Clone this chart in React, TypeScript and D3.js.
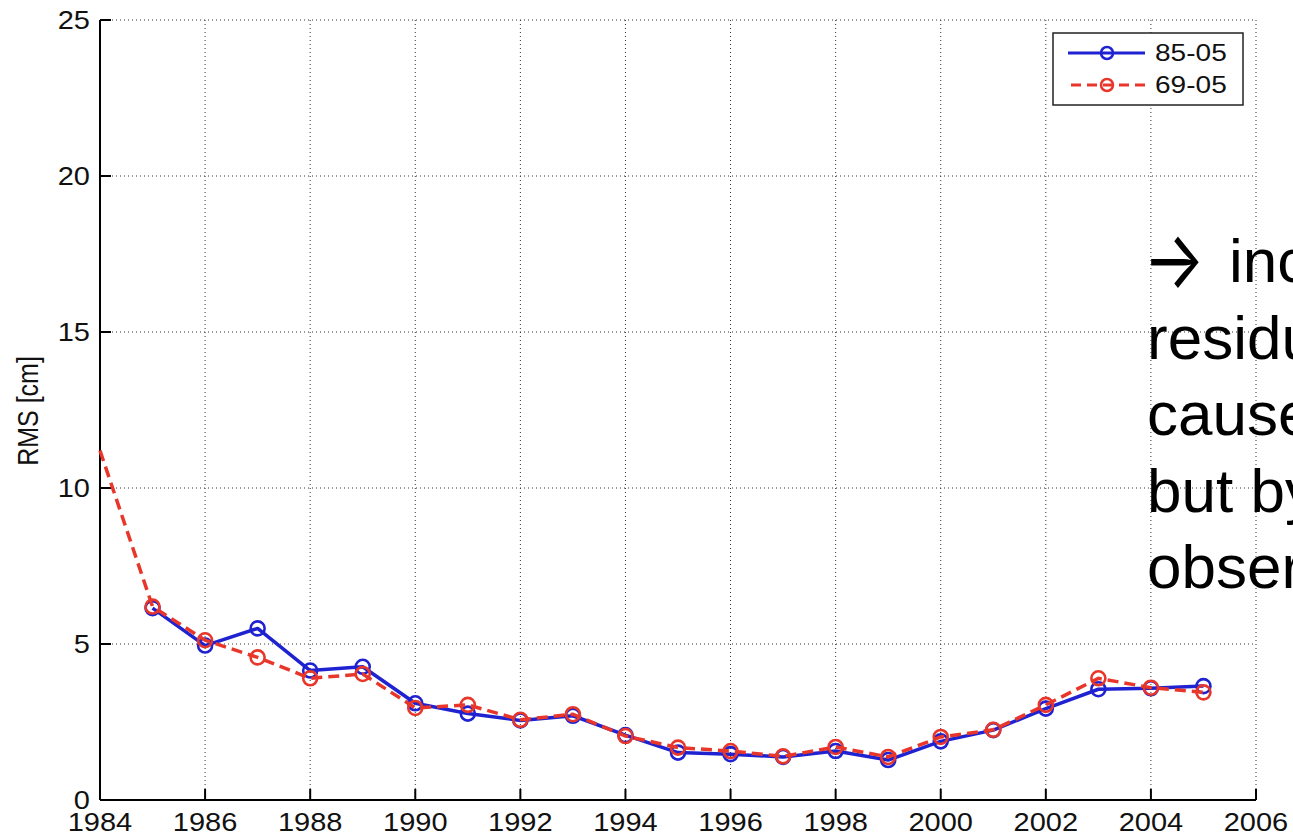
import React from 'react';
import * as d3 from 'd3';

// years / values
const years85 = [1985, 1986, 1987, 1988, 1989, 1990, 1991, 1992, 1993, 1994, 1995, 1996, 1997, 1998, 1999, 2000, 2001, 2002, 2003, 2004, 2005];
const rms85 = [6.15, 4.95, 5.5, 4.15, 4.27, 3.1, 2.77, 2.55, 2.7, 2.08, 1.52, 1.47, 1.38, 1.57, 1.28, 1.88, 2.24, 2.93, 3.55, 3.58, 3.65];
const years69 = [1984, 1985, 1986, 1987, 1988, 1989, 1990, 1991, 1992, 1993, 1994, 1995, 1996, 1997, 1998, 1999, 2000, 2001, 2002, 2003, 2004, 2005];
const rms69 = [11.2, 6.2, 5.12, 4.57, 3.9, 4.04, 2.95, 3.05, 2.57, 2.75, 2.05, 1.68, 1.57, 1.4, 1.7, 1.38, 2.02, 2.25, 3.05, 3.9, 3.6, 3.45];
const xTicks = [1984, 1986, 1988, 1990, 1992, 1994, 1996, 1998, 2000, 2002, 2004, 2006];
const yTicks = [0, 5, 10, 15, 20, 25];
const noteLines = ['inc', 'residu', 'cause', 'but by', 'obser'];

const W = 1293, H = 833;
const left = 100, right = 1256, top = 20, bottom = 800;
const font = '"Liberation Sans", Arial, sans-serif';
const BLUE = '#1f22d0';
const RED = '#e8372a';
const stretch = 1.16;

const App = () => {
  const x = d3.scaleLinear().domain([1984, 2006]).range([left, right]);
  const y = d3.scaleLinear().domain([0, 25]).range([bottom, top]);

  const line = d3.line<[number, number]>()
    .x(d => x(d[0]))
    .y(d => y(d[1]));

  const blue = years85.map((yr, i) => [yr, rms85[i]] as [number, number]);
  const red = years69.map((yr, i) => [yr, rms69[i]] as [number, number]);

  return (
    <svg width={W} height={H} style={{ position: 'absolute', left: 0, top: 0, background: '#fff' }}>
      <rect width={W} height={H} fill="#fff" />

      {/* dotted grid */}
      {xTicks.filter(t => t !== 1984).map(t => (
        <line key={'gx' + t} x1={x(t)} x2={x(t)} y1={top} y2={bottom}
          stroke="#333" strokeWidth={1} strokeDasharray="1,3" />
      ))}
      {yTicks.filter(t => t !== 0).map(t => (
        <line key={'gy' + t} x1={left} x2={right} y1={y(t)} y2={y(t)}
          stroke="#333" strokeWidth={1} strokeDasharray="1,3" />
      ))}

      {/* axes */}
      <line x1={left} x2={left} y1={top} y2={bottom} stroke="#000" strokeWidth={2} />
      <line x1={left} x2={right} y1={bottom} y2={bottom} stroke="#000" strokeWidth={2} />
      {yTicks.map(t => (
        <line key={'ty' + t} x1={left} x2={left + 11} y1={y(t)} y2={y(t)} stroke="#000" strokeWidth={2} />
      ))}
      {xTicks.map(t => (
        <line key={'tx' + t} x1={x(t)} x2={x(t)} y1={bottom} y2={bottom - 11} stroke="#000" strokeWidth={2} />
      ))}

      {/* tick labels */}
      {yTicks.map(t => (
        <text key={'ly' + t} transform={`translate(${left - 10},${y(t) + 9}) scale(${stretch},1)`}
          textAnchor="end" fontFamily={font} fontSize={25} fill="#111">{t}</text>
      ))}
      {xTicks.map(t => (
        <text key={'lx' + t} transform={`translate(${x(t)},${bottom + 31}) scale(${stretch},1)`}
          textAnchor="middle" fontFamily={font} fontSize={25} fill="#111">{t}</text>
      ))}
      <text transform={`translate(38,411) rotate(-90) scale(1,${stretch})`}
        textAnchor="middle" fontFamily={font} fontSize={25} fill="#111">RMS [cm]</text>

      {/* series */}
      <path d={line(blue) || ''} fill="none" stroke={BLUE} strokeWidth={3.5} strokeLinejoin="round" />
      {blue.map(d => (
        <circle key={'b' + d[0]} cx={x(d[0])} cy={y(d[1])} r={7} fill="none" stroke={BLUE} strokeWidth={2.6} />
      ))}
      <path d={line(red) || ''} fill="none" stroke={RED} strokeWidth={3.5} strokeDasharray="11,6" />
      {red.filter(d => d[0] > 1984).map(d => (
        <circle key={'r' + d[0]} cx={x(d[0])} cy={y(d[1])} r={7} fill="none" stroke={RED} strokeWidth={2.6} />
      ))}

      {/* legend */}
      <g>
        <rect x={1053} y={33} width={190} height={72} fill="#fff" stroke="#222" strokeWidth={1.5} />
        <line x1={1068} x2={1145} y1={53} y2={53} stroke={BLUE} strokeWidth={3} />
        <circle cx={1107} cy={53} r={6} fill="none" stroke={BLUE} strokeWidth={2.5} />
        <text transform={`translate(1155,61) scale(1.22,1)`} fontFamily={font} fontSize={23} fill="#111">85-05</text>
        <line x1={1071} x2={1145} y1={85} y2={85} stroke={RED} strokeWidth={3} strokeDasharray="10,6" />
        <circle cx={1107} cy={85} r={6} fill="none" stroke={RED} strokeWidth={2.5} />
        <text transform={`translate(1155,93) scale(1.22,1)`} fontFamily={font} fontSize={23} fill="#111">69-05</text>
      </g>

      {/* overlaid slide note, cut off at the right edge */}
      <text transform="translate(1143,259) scale(1.05,1.3)" y={22} fontFamily="Inter, sans-serif"
        fontSize={62} fill="#000">{'\u2192'}</text>
      {noteLines.map((s, i) => (
        <text key={'n' + i} x={i === 0 ? 1229 : 1147} y={282 + i * 76.5} fontFamily={font} fontSize={62} fill="#000">{s}</text>
      ))}
    </svg>
  );
};

export default App;
